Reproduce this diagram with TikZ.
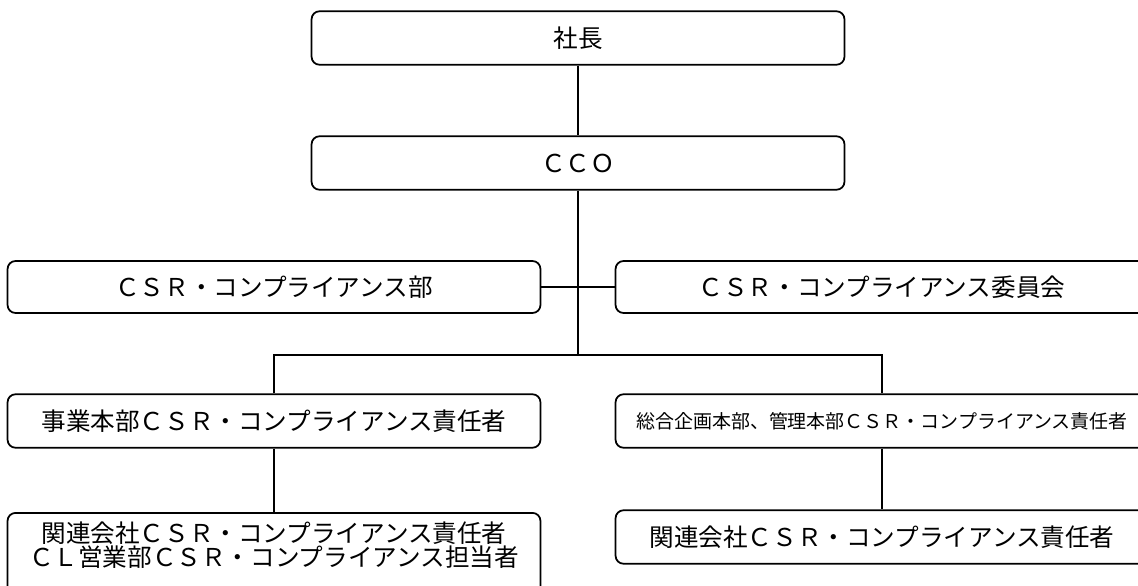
\documentclass[tikz,border=0pt]{standalone}
\usepackage{fontspec}
\setmainfont{Noto Sans CJK JP}
\usepackage{tikz}

\begin{document}
\begin{tikzpicture}[x=0.02cm,y=-0.02cm,line width=1pt,
 orgbox/.style={draw,rounded corners=0.16cm,minimum width=10.66cm,minimum height=1.07cm,inner sep=0pt,font=\fontsize{14pt}{16pt}\selectfont},
 smalltxt/.style={font=\fontsize{10.8pt}{12pt}\selectfont}]
\useasboundingbox (0,0) rectangle (1138,585);
\clip (0,0) rectangle (1138,585);
\node[orgbox] (pres) at (578,38) {社長};
\node[orgbox] (cco) at (578,163) {ＣＣＯ};
\node[orgbox,minimum height=1.04cm] (dept) at (274,287) {ＣＳＲ・コンプライアンス部};
\node[orgbox,minimum height=1.04cm] (comm) at (882,287) {ＣＳＲ・コンプライアンス委員会};
\node[orgbox] (jigL) at (274,421) {事業本部ＣＳＲ・コンプライアンス責任者};
\node[orgbox,smalltxt] (jigR) at (882,421) {総合企画本部、管理本部ＣＳＲ・コンプライアンス責任者};
\node[orgbox] (relR) at (882,537) {関連会社ＣＳＲ・コンプライアンス責任者};
\node[orgbox,anchor=north,minimum height=1.8cm] (relL) at (274,512) {};
\node[align=center,inner sep=0pt,font=\fontsize{14pt}{12pt}\selectfont] (relLtxt) at ([yshift=-0.66cm]relL.north)
 {関連会社ＣＳＲ・コンプライアンス責任者\\ＣＬ営業部ＣＳＲ・コンプライアンス担当者};
\coordinate (jn) at (578,355);
\draw (pres)--(cco);
\draw (cco)--(jn);
\draw (dept)--(comm);
\draw (jigL) |- (jn) -| (jigR);
\draw (jigL)--(relL);
\draw (jigR)--(relR);
\end{tikzpicture}
\end{document}
